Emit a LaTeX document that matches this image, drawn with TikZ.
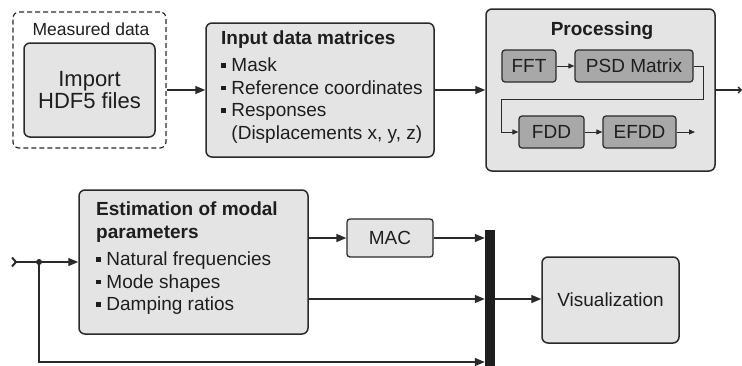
\documentclass[tikz,border=0pt]{standalone}
\usepackage{fontspec}
\setmainfont{Liberation Sans}
\usetikzlibrary{arrows.meta}

\definecolor{boxfill}{HTML}{E4E4E4}
\definecolor{subfill}{HTML}{A8A8A8}
\definecolor{edge}{HTML}{2A2A2A}
\definecolor{ink}{HTML}{1E1E1E}

\newcommand{\sqbul}{\rule[0.22em]{0.24em}{0.24em}\hspace{0.3em}}

\tikzset{
  bigbox/.style={draw=edge, line width=1.5pt, fill=boxfill, rounded corners=6pt,
    inner sep=0pt, text=ink},
  subbox/.style={draw=edge, line width=1.2pt, fill=subfill, rounded corners=3pt,
    inner sep=0pt, minimum height=32pt, text=ink, font=\fontsize{19}{22}\selectfont},
  listtext/.style={align=left, anchor=north west, inner sep=0pt, text=ink,
    font=\fontsize{19}{22.5}\selectfont},
  conn/.style={draw=edge, line width=1.4pt, -{Triangle[length=10pt,width=8pt]}},
  thin conn/.style={draw=edge, line width=1pt, -{Triangle[length=6pt,width=5pt]}},
  plain/.style={draw=edge, line width=1.4pt},
}

\begin{document}
\begin{tikzpicture}[x=1pt,y=-1pt]
\useasboundingbox (0,0) rectangle (742,365);

% --- first row ---
\node[draw=edge, line width=1.2pt, dashed, dash pattern=on 5pt off 3pt,
  rounded corners=6pt, minimum width=153pt, minimum height=136pt] (meas) at (89.5,80) {};
\node[text=ink, font=\fontsize{17.5}{20}\selectfont] (meastitle) at (91,29) {Measured data};
\node[bigbox, minimum width=131pt, minimum height=94pt, align=center,
  font=\fontsize{22}{22}\selectfont] (imp) at (89.5,90) {Import\\HDF5 files};

\node[bigbox, minimum width=228pt, minimum height=134pt] (inp) at (320,90) {};
\node[listtext] (inptext) at (221,31) {\textbf{Input data matrices}\\[4.5pt]
  \sqbul Mask\\
  \sqbul Reference coordinates\\
  \sqbul Responses\\
  \hphantom{\sqbul}(Displacements x, y, z)};

\node[bigbox, minimum width=229pt, minimum height=162pt] (proc) at (600.5,90) {};
\node[text=ink, font=\bfseries\fontsize{19}{22}\selectfont] (proctitle) at (602,31) {Processing};
\node[subbox, minimum width=54pt] (fft) at (529,66) {FFT};
\node[subbox, minimum width=118pt] (psd) at (634,66) {PSD Matrix};
\node[subbox, minimum width=65pt] (fdd) at (551.5,132) {FDD};
\node[subbox, minimum width=73pt] (efdd) at (639.5,132) {EFDD};
\coordinate (efddout) at (695,132);
\coordinate (cont) at (742,90);

\draw[conn] (meas.east |- imp.east) -- (inp.west |- imp.east);
\draw[conn] (inp.east) -- (proc.west);
\draw[thin conn] (fft) -- (psd);
\draw[thin conn] (psd.east) -- ++(10,0) -- ++(0,33) -| ([xshift=-17pt]fdd.west) -- (fdd.west);
\draw[thin conn] (fdd) -- (efdd);
\draw[thin conn] (efdd) -- (efddout);
\draw[plain, -{Straight Barb[length=3pt,width=6pt]}] (proc.east) -- (cont);

% --- second row ---
\coordinate (entry) at (11,262);
\coordinate (split) at (39,262);
\node[bigbox, minimum width=229pt, minimum height=144pt] (est) at (193.5,262) {};
\node[listtext] (esttext) at (96,202) {\textbf{Estimation of modal}\\
  \textbf{parameters}\\[5pt]
  \sqbul Natural frequencies\\
  \sqbul Mode shapes\\
  \sqbul Damping ratios};

\node[bigbox, rounded corners=3pt, line width=1.3pt, minimum width=86pt, minimum height=38pt,
  font=\fontsize{19}{22}\selectfont] (mac) at (390,238) {MAC};
\node[fill=ink, inner sep=0pt, minimum width=10pt, minimum height=137pt] (bar) at (490,298.5) {};
\node[bigbox, minimum width=137pt, minimum height=86pt,
  font=\fontsize{19}{22}\selectfont] (vis) at (610.5,300) {Visualization};

\draw[plain, {Straight Barb[reversed,length=4pt,width=9pt,line width=2pt]}-] (entry) -- (split);
\draw[conn] (split) -- (est.west |- split);
\fill[edge] (split) circle (3pt);
\draw[conn] (est.east |- mac.west) -- (mac.west);
\draw[conn] (mac.east) -- (bar.west |- mac.east);
\draw[conn] (est.east |- 0,299) -- (bar.west |- 0,299);
\draw[conn] (split) |- (bar.west |- 0,362);
\draw[conn] (bar.east |- 0,299) -- (vis.west |- 0,299);
\end{tikzpicture}
\end{document}
